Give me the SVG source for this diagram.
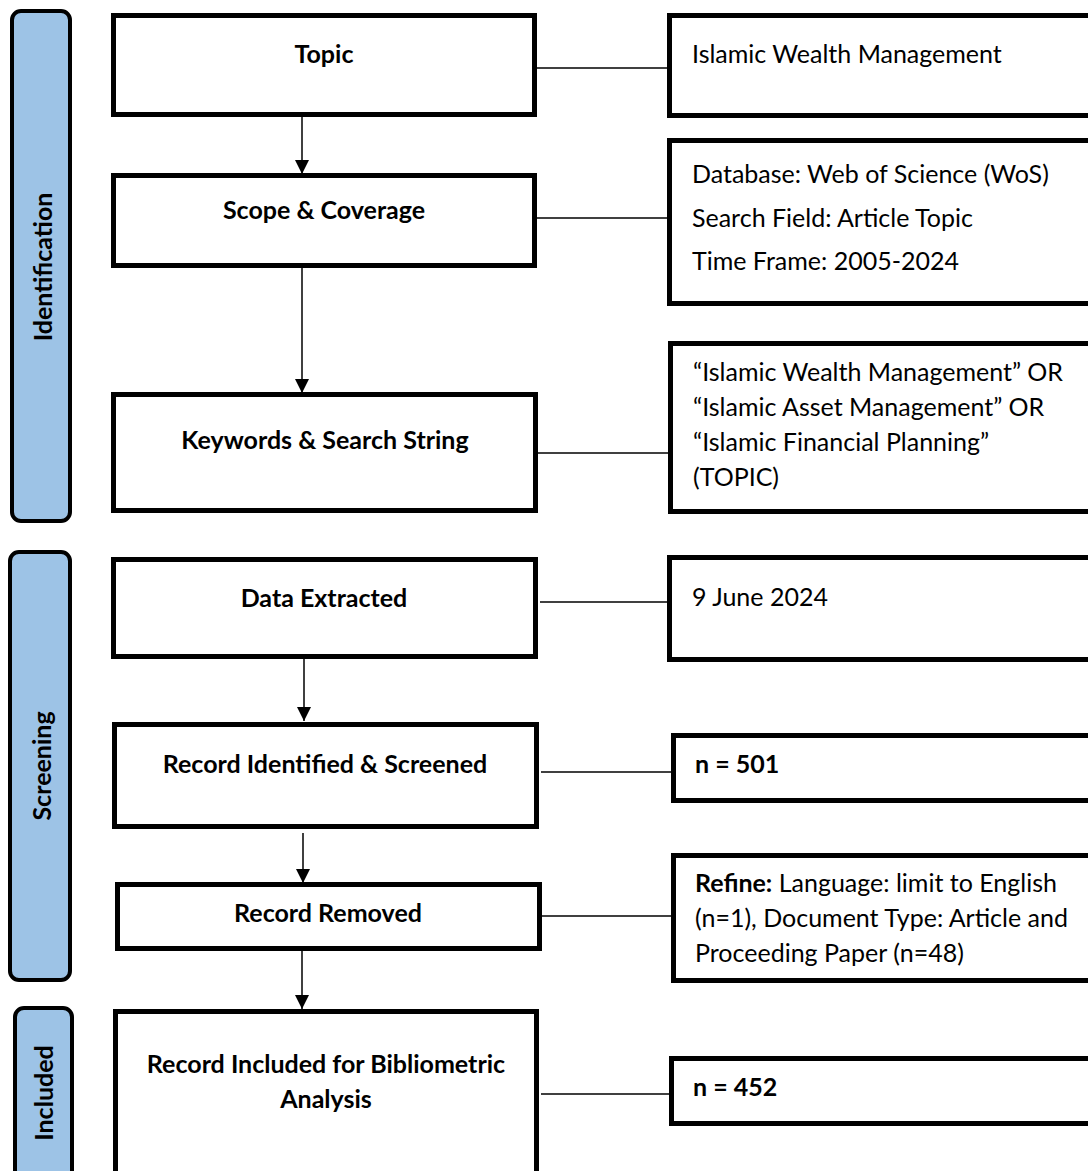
<svg xmlns="http://www.w3.org/2000/svg" width="1088" height="1171" viewBox="0 0 1088 1171">
<defs>
<style>
.bar{fill:#9DC3E6;stroke:#000;stroke-width:4}
.box{fill:#fff;stroke:#000;stroke-width:5}
.conn{stroke:#000;stroke-width:1.5;fill:none}
.t{font-family:Lato,"Open Sans","Liberation Sans",sans-serif;font-size:25px;fill:#000}
.b{font-family:Lato,"Open Sans","Liberation Sans",sans-serif;font-size:25px;font-weight:bold;fill:#000}
.c{text-anchor:middle}
</style>
<marker id="ah" markerUnits="userSpaceOnUse" markerWidth="14" markerHeight="16" refX="14" refY="7" orient="auto">
<path d="M0,0 L14,7 L0,14 Z" fill="#000"/>
</marker>
</defs>
<rect width="1088" height="1171" fill="#fff"/>

<g id="phase-identification">
<rect class="bar" x="12" y="11" width="58" height="510" rx="9"/>
<text class="b c" transform="translate(52,267) rotate(-90)">Identification</text>
</g>
<g id="phase-screening">
<rect class="bar" x="10" y="552" width="60" height="428" rx="9"/>
<text class="b c" transform="translate(51,766) rotate(-90)">Screening</text>
</g>
<g id="phase-included">
<rect class="bar" x="15" y="1008" width="57" height="180" rx="9"/>
<text class="b c" transform="translate(53,1093) rotate(-90)">Included</text>
</g>

<g id="connectors">
<line class="conn" x1="302" y1="117" x2="302" y2="174" marker-end="url(#ah)"/>
<line class="conn" x1="302" y1="268" x2="302" y2="393" marker-end="url(#ah)"/>
<line class="conn" x1="304" y1="659" x2="304" y2="721" marker-end="url(#ah)"/>
<line class="conn" x1="303" y1="833" x2="303" y2="883" marker-end="url(#ah)"/>
<line class="conn" x1="302" y1="950" x2="302" y2="1009" marker-end="url(#ah)"/>
<line class="conn" x1="537" y1="68" x2="667" y2="68"/>
<line class="conn" x1="537" y1="218" x2="667" y2="218"/>
<line class="conn" x1="538" y1="453" x2="668" y2="453"/>
<line class="conn" x1="540" y1="602" x2="667" y2="602"/>
<line class="conn" x1="541" y1="772" x2="671" y2="772"/>
<line class="conn" x1="542" y1="916" x2="671" y2="916"/>
<line class="conn" x1="541" y1="1094" x2="669" y2="1094"/>
</g>

<g id="topic">
<rect class="box" x="113.5" y="15.5" width="421" height="99"/>
<text class="b c" x="324" y="63">Topic</text>
</g>
<g id="scope">
<rect class="box" x="113.5" y="175.5" width="421" height="90"/>
<text class="b c" x="324" y="219">Scope &amp; Coverage</text>
</g>
<g id="keywords">
<rect class="box" x="113.5" y="394.5" width="422" height="116"/>
<text class="b c" x="325" y="449">Keywords &amp; Search String</text>
</g>
<g id="data-extracted">
<rect class="box" x="113.5" y="559.5" width="422" height="97"/>
<text class="b c" x="324" y="607">Data Extracted</text>
</g>
<g id="record-identified">
<rect class="box" x="114.5" y="724.5" width="422" height="102"/>
<text class="b c" x="325" y="773">Record Identified &amp; Screened</text>
</g>
<g id="record-removed">
<rect class="box" x="117.5" y="884.5" width="422" height="64"/>
<text class="b c" x="328" y="922">Record Removed</text>
</g>
<g id="record-included">
<rect class="box" x="115.5" y="1011.5" width="421" height="170"/>
<text class="b c" x="326" y="1073">Record Included for Bibliometric</text>
<text class="b c" x="326" y="1108">Analysis</text>
</g>

<g id="topic-detail">
<rect class="box" x="669.5" y="15.5" width="440" height="100"/>
<text class="t" x="692" y="63">Islamic Wealth Management</text>
</g>
<g id="scope-detail">
<rect class="box" x="669.5" y="140.5" width="440" height="163"/>
<text class="t" x="692" y="183">Database: Web of Science (WoS)</text>
<text class="t" x="692" y="227">Search Field: Article Topic</text>
<text class="t" x="692" y="270">Time Frame: 2005-2024</text>
</g>
<g id="keywords-detail">
<rect class="box" x="670.5" y="343.5" width="440" height="168"/>
<text class="t" x="693" y="381">“Islamic Wealth Management” OR</text>
<text class="t" x="693" y="416">“Islamic Asset Management” OR</text>
<text class="t" x="693" y="451">“Islamic Financial Planning”</text>
<text class="t" x="693" y="486">(TOPIC)</text>
</g>
<g id="date-detail">
<rect class="box" x="669.5" y="557.5" width="440" height="102"/>
<text class="t" x="692" y="606">9 June 2024</text>
</g>
<g id="identified-detail">
<rect class="box" x="673.5" y="735.5" width="440" height="65"/>
<text class="b" x="695" y="773">n = 501</text>
</g>
<g id="removed-detail">
<rect class="box" x="673.5" y="855.5" width="440" height="125"/>
<text class="t" x="695" y="892"><tspan font-weight="bold">Refine:</tspan> Language: limit to English</text>
<text class="t" x="695" y="927">(n=1), Document Type: Article and</text>
<text class="t" x="695" y="962">Proceeding Paper (n=48)</text>
</g>
<g id="included-detail">
<rect class="box" x="671.5" y="1058.5" width="440" height="65"/>
<text class="b" x="693" y="1096">n = 452</text>
</g>
</svg>
